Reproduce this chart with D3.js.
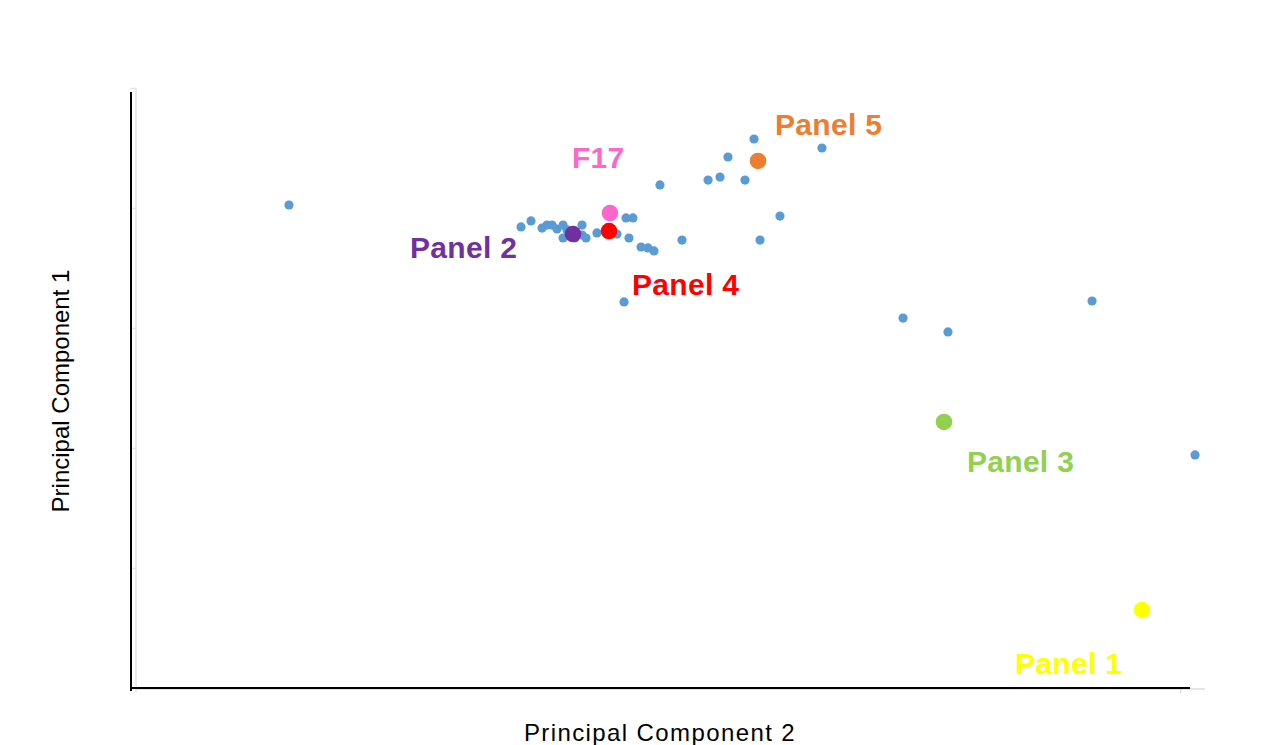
<!DOCTYPE html>
<html>
<head>
<meta charset="utf-8">
<script src="https://cdn.jsdelivr.net/npm/d3@7"></script>
<style>
  html, body { margin: 0; padding: 0; background: #fff; }
  svg { display: block; font-family: "Liberation Sans", Arial, sans-serif; }
</style>
</head>
<body>
<svg id="chart" width="1263" height="745"></svg>
<script>
// PCA scores: Principal Component 2 (x) against Principal Component 1 (y)
const sampleX = [1.457, 3.667, 3.762, 3.867, 3.914, 3.962, 4.010, 4.067, 4.105, 4.067,
                 4.181, 4.248, 4.248, 4.286, 4.390, 4.581, 4.667, 4.733, 4.695, 4.810,
                 4.876, 4.933, 5.200, 4.648, 4.990, 5.448, 5.562, 5.638, 5.800, 5.886,
                 6.133, 5.943, 6.533, 7.305, 7.733, 9.105, 10.086];
const sampleY = [4.025, 3.842, 3.892, 3.833, 3.858, 3.858, 3.825, 3.858, 3.817, 3.750,
                 3.750, 3.858, 3.775, 3.750, 3.792, 3.783, 3.917, 3.917, 3.750, 3.675,
                 3.667, 3.642, 3.733, 3.217, 4.192, 4.233, 4.258, 4.425, 4.233, 4.575,
                 3.933, 3.733, 4.500, 3.083, 2.967, 3.225, 1.942];

// Highlighted panels
const panelNames  = ["Panel 5", "F17", "Panel 4", "Panel 2", "Panel 3", "Panel 1"];
const panelX      = [5.924, 4.514, 4.505, 4.162, 7.695, 9.581];
const panelY      = [4.392, 3.958, 3.808, 3.783, 2.217, 0.650];
const panelColors = ["#ed7d31", "#ff66cc", "#ff0000", "#7030a0", "#92d050", "#ffff00"];
// label offsets (px) relative to each highlighted point
const labelDx = [17, -38, 23, -163, 23, -127];
const labelDy = [-26, -45, 64, 24, 50, 64];

const yTicks = [0, 1, 2, 3, 4, 5];
const xTitle = "Principal Component 2";
const yTitle = "Principal Component 1";

const svg = d3.select("#chart");

const x = d3.scaleLinear().domain([0, 10]).range([136, 1186]);
const y = d3.scaleLinear().domain([0, 5]).range([688, 88]);

// faint value axis with short ticks
const yAxis = svg.append("g")
  .attr("transform", `translate(${x(0)},0)`)
  .call(d3.axisLeft(y).tickValues(yTicks).tickSize(6).tickFormat(""));
yAxis.selectAll("path, line").attr("stroke", "#e3e3e3").attr("stroke-width", 1.5);
yAxis.select(".domain").attr("d", `M0,${y(5)}V${y(0) + 4}`);

// faint extension of the horizontal axis
svg.append("line")
  .attr("x1", x(0)).attr("x2", x(10) + 19)
  .attr("y1", y(0) + 1).attr("y2", y(0) + 1)
  .attr("stroke", "#e6e6e6").attr("stroke-width", 2);
svg.append("line")
  .attr("x1", x(9.95)).attr("x2", x(9.95))
  .attr("y1", y(0)).attr("y2", y(0) + 5)
  .attr("stroke", "#d0d0d0").attr("stroke-width", 1);

// black axis lines
svg.append("line")
  .attr("x1", x(0) - 5).attr("x2", x(0) - 5)
  .attr("y1", y(5) + 4).attr("y2", y(0) + 3)
  .attr("stroke", "#000").attr("stroke-width", 2);
svg.append("line")
  .attr("x1", x(0) - 6).attr("x2", x(10) + 4)
  .attr("y1", y(0)).attr("y2", y(0))
  .attr("stroke", "#000").attr("stroke-width", 2);

// sample points
svg.append("g").selectAll("circle")
  .data(d3.range(sampleX.length))
  .join("circle")
  .attr("cx", i => x(sampleX[i]))
  .attr("cy", i => y(sampleY[i]))
  .attr("r", 4.6)
  .attr("fill", "#5b9bd5");

// highlighted panels
const panels = d3.range(panelNames.length);
svg.append("g").selectAll("circle")
  .data(panels)
  .join("circle")
  .attr("cx", i => x(panelX[i]))
  .attr("cy", i => y(panelY[i]))
  .attr("r", 8.3)
  .attr("fill", i => panelColors[i]);

svg.append("g").selectAll("text")
  .data(panels)
  .join("text")
  .attr("x", i => x(panelX[i]) + labelDx[i])
  .attr("y", i => y(panelY[i]) + labelDy[i])
  .attr("fill", i => panelColors[i])
  .attr("font-size", 30)
  .attr("font-weight", "bold")
  .attr("letter-spacing", 0.3)
  .text(i => panelNames[i]);

// axis titles
svg.append("text")
  .attr("x", 660).attr("y", 741)
  .attr("text-anchor", "middle")
  .attr("font-size", 24)
  .attr("letter-spacing", 1.4)
  .attr("fill", "#000")
  .text(xTitle);
svg.append("text")
  .attr("transform", "translate(69,391) rotate(-90)")
  .attr("text-anchor", "middle")
  .attr("font-size", 24)
  .attr("fill", "#000")
  .text(yTitle);
</script>
</body>
</html>
